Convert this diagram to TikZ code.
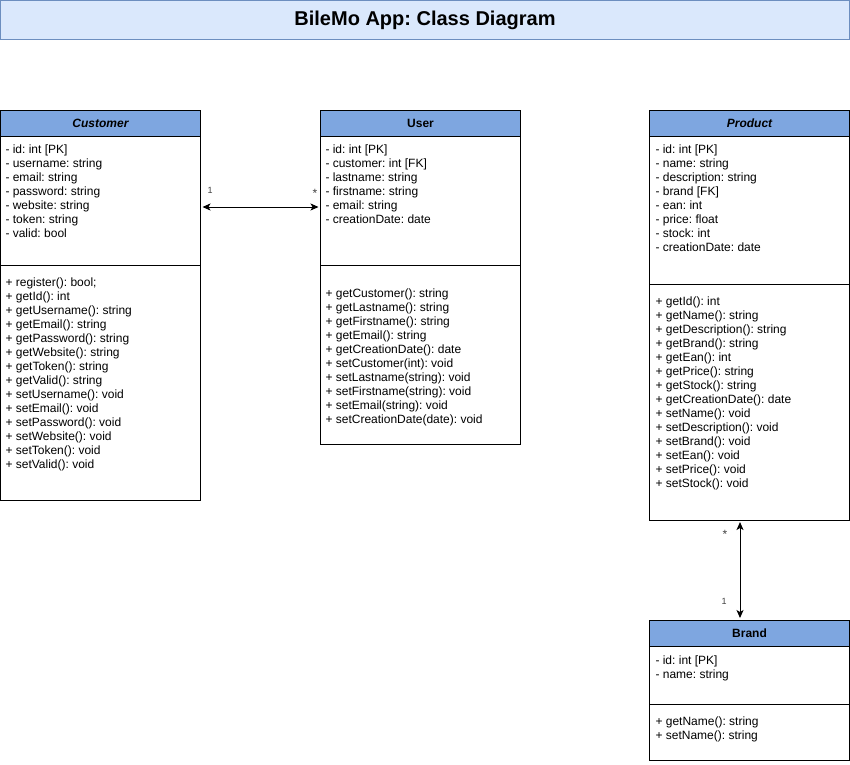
\documentclass[tikz,border=0pt]{standalone}
\usepackage{fontspec}
\setmainfont{Liberation Sans}
\usetikzlibrary{positioning,arrows.meta}
\frenchspacing

\definecolor{headblue}{HTML}{7EA6E0}
\definecolor{titleblue}{HTML}{DAE8FC}
\definecolor{titleline}{HTML}{6C8EBF}

\tikzset{
  classhead/.style = {draw, fill = headblue, minimum width = 200pt, minimum height = 26pt, inner sep = 0pt, outer sep = 0pt, font = \fontsize{12}{14}\selectfont\bfseries},
  compartment/.style = {draw, minimum width = 200pt, inner sep = 0pt, outer sep = 0pt},
  member/.style = {anchor = base west, inner sep = 0pt, font = \fontsize{12}{14}\selectfont},
  mult/.style = {inner sep = 0pt, font = \fontsize{9}{10}\selectfont, text = black!75},
  assoc/.style = {arrows = {Stealth[length=8pt, width=7pt, inset=2pt]-Stealth[length=8pt, width=7pt, inset=2pt]}, line width = 1pt, shorten <= 2pt, shorten >= 2pt}
}

\begin{document}
\begin{tikzpicture}[x = 1pt, y = -1pt, line width = 1pt]
\useasboundingbox (0,0) rectangle (850,764);

\node[draw = titleline, fill = titleblue, minimum width = 849pt, minimum height = 39pt, inner sep = 0pt, font = \fontsize{20}{24}\selectfont\bfseries] (title) at (425,20) {BileMo App: Class Diagram};

% Customer
\node[classhead, anchor = north west] (customer) at (0.5,110) {\itshape Customer};
\node[compartment, minimum height = 129pt, below = 0pt of customer] (customerattr) {};
\node[compartment, minimum height = 235pt, below = 0pt of customerattr] (customerop) {};
\foreach \m [count=\i] in {{- id: int [PK]}, {- username: string}, {- email: string}, {- password: string}, {- website: string}, {- token: string}, {- valid: bool}}
  \node[member] (customerattr-\i) at (5, 139+14*\i) {\m};
\foreach \m [count=\i] in {{+ register(): bool;}, {+ getId(): int}, {+ getUsername(): string}, {+ getEmail(): string}, {+ getPassword(): string}, {+ getWebsite(): string}, {+ getToken(): string}, {+ getValid(): string}, {+ setUsername(): void}, {+ setEmail(): void}, {+ setPassword(): void}, {+ setWebsite(): void}, {+ setToken(): void}, {+ setValid(): void}}
  \node[member] (customerop-\i) at (5, 272+14*\i) {\m};

% User
\node[classhead, anchor = north west] (user) at (320.5,110) {User};
\node[compartment, minimum height = 129pt, below = 0pt of user] (userattr) {};
\node[compartment, minimum height = 179pt, below = 0pt of userattr] (userop) {};
\foreach \m [count=\i] in {{- id: int [PK]}, {- customer: int [FK]}, {- lastname: string}, {- firstname: string}, {- email: string}, {- creationDate: date}}
  \node[member] (userattr-\i) at (325, 139+14*\i) {\m};
\foreach \m [count=\i] in {{+ getCustomer(): string}, {+ getLastname(): string}, {+ getFirstname(): string}, {+ getEmail(): string}, {+ getCreationDate(): date}, {+ setCustomer(int): void}, {+ setLastname(string): void}, {+ setFirstname(string): void}, {+ setEmail(string): void}, {+ setCreationDate(date): void}}
  \node[member] (userop-\i) at (325, 283+14*\i) {\m};

% Product
\node[classhead, anchor = north west] (product) at (649.5,110) {\itshape Product};
\node[compartment, minimum height = 148pt, below = 0pt of product] (productattr) {};
\node[compartment, minimum height = 236pt, below = 0pt of productattr] (productop) {};
\foreach \m [count=\i] in {{- id: int [PK]}, {- name: string}, {- description: string}, {- brand [FK]}, {- ean: int}, {- price: float}, {- stock: int}, {- creationDate: date}}
  \node[member] (productattr-\i) at (655, 139+14*\i) {\m};
\foreach \m [count=\i] in {{+ getId(): int}, {+ getName(): string}, {+ getDescription(): string}, {+ getBrand(): string}, {+ getEan(): int}, {+ getPrice(): string}, {+ getStock(): string}, {+ getCreationDate(): date}, {+ setName(): void}, {+ setDescription(): void}, {+ setBrand(): void}, {+ setEan(): void}, {+ setPrice(): void}, {+ setStock(): void}}
  \node[member] (productop-\i) at (655, 291+14*\i) {\m};

% Brand
\node[classhead, anchor = north west] (brand) at (649.5,620) {Brand};
\node[compartment, minimum height = 58pt, below = 0pt of brand] (brandattr) {};
\node[compartment, minimum height = 56pt, below = 0pt of brandattr] (brandop) {};
\foreach \m [count=\i] in {{- id: int [PK]}, {- name: string}}
  \node[member] (brandattr-\i) at (655, 650+14*\i) {\m};
\foreach \m [count=\i] in {{+ getName(): string}, {+ setName(): string}}
  \node[member] (brandop-\i) at (655, 711+14*\i) {\m};

% associations
\draw[assoc] ([yshift=-6.5pt]customerattr.east) -- ([yshift=-6.5pt]userattr.west);
\node[mult] (mult-customer) at (210,190) {1};
\node[mult, font = \fontsize{12}{14}\selectfont] (mult-user) at (315,193) {*};
\draw[assoc] ([xshift=-9.5pt]productop.south) -- ([xshift=-9.5pt]brand.north);
\node[mult, font = \fontsize{12}{14}\selectfont] (mult-product) at (725,534) {*};
\node[mult] (mult-brand) at (724,601) {1};
\end{tikzpicture}
\end{document}
